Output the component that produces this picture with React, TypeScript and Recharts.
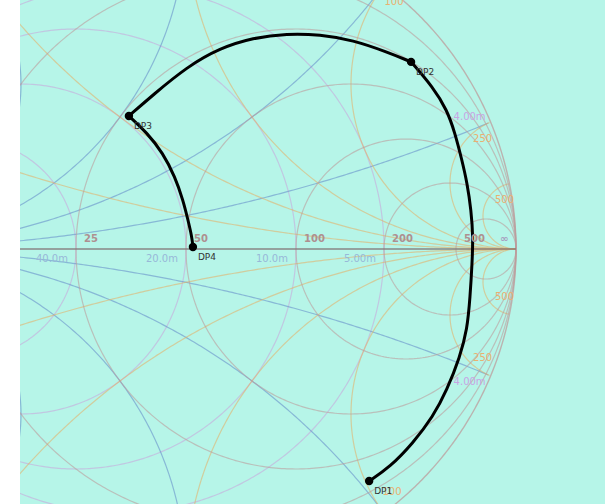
import React from 'react';
import { ComposedChart, XAxis, YAxis, Line, Scatter, CartesianGrid } from 'recharts';

// ---------- grid values (ohms / millisiemens, Z0 = 50 ohm) ----------
const Z0 = 50;
const resistanceOhms = [10, 25, 50, 100, 200, 500];
const reactanceOhms = [10, 25, 50, 100, 250, 500];
const conductanceMS = [100, 40, 20, 10, 5];
const susceptanceMS = [100, 40, 20, 10, 4];

// ---------- tick labels ----------
const resistanceLabelText = ['25', '50', '100', '200', '500', '\u221e'];
const resistanceLabelOhms = [25, 50, 100, 200, 500, Infinity];
const conductanceLabelText = ['40.0m', '20.0m', '10.0m', '5.00m'];
const conductanceLabelMS = [40, 20, 10, 5];
const reactanceLabelText = ['100', '250', '500'];
const reactanceLabelOhms = [100, 250, 500];
const susceptanceLabelText = ['4.00m'];
const susceptanceLabelMS = [4];

// ---------- matching path (reflection coefficient) ----------
const seg1Re = [0.555, 0.618, 0.688, 0.748, 0.791, 0.830, 0.852, 0.861, 0.867, 0.870, 0.864, 0.852, 0.836, 0.815, 0.791, 0.748, 0.682];
const seg1Im = [-0.703, -0.661, -0.588, -0.509, -0.427, -0.327, -0.245, -0.145, -0.042, 0.036, 0.118, 0.200, 0.270, 0.352, 0.421, 0.491, 0.567];
const seg2Re = [0.682, 0.609, 0.506, 0.406, 0.306, 0.203, 0.103, 0.003, -0.100, -0.173];
const seg2Im = [0.567, 0.597, 0.633, 0.650, 0.653, 0.640, 0.609, 0.552, 0.467, 0.403];
const seg3Re = [-0.173, -0.118, -0.070, -0.033, -0.009, 0.006, 0.018, 0.021];
const seg3Im = [0.403, 0.352, 0.291, 0.218, 0.148, 0.088, 0.036, 0.006];

const dpNames = ['DP1', 'DP2', 'DP3', 'DP4'];
const dpRe = [0.555, 0.682, -0.173, 0.021];
const dpIm = [-0.703, 0.567, 0.403, 0.006];

// ---------- styles ----------
const W = 605;
const H = 504;
const X_DOMAIN: [number, number] = [-0.50303, 1.2697];
const Y_DOMAIN: [number, number] = [-0.772727, 0.754545];
const BG = '#b6f5e8';
const RES_COLOR = '#bc9c9c';
const REACT_COLOR = '#e2b26c';
const COND_COLOR = '#c8a8dc';
const SUSC_COLOR = '#6f98cc';
const AXIS_COLOR = '#847a7a';
const FONT = 'DejaVu Sans, sans-serif';

// ---------- geometry helpers (grid built from the tick values) ----------
type P = { x: number; y: number };
const arc = (cx: number, cy: number, rad: number, t0: number, t1: number, n: number): P[] => {
  const pts: P[] = [];
  for (let i = 0; i <= n; i++) {
    const t = t0 + ((t1 - t0) * i) / n;
    const x = cx + rad * Math.cos(t);
    const y = cy + rad * Math.sin(t);
    if (x * x + y * y <= 1.000001) pts.push({ x, y });
  }
  return pts;
};
const nFor = (rad: number, span: number) => Math.min(3000, Math.max(160, Math.ceil(rad * span * 120)));

const resistanceCircle = (ohm: number) => {
  const r = ohm / Z0;
  const rad = 1 / (1 + r);
  return arc(r / (1 + r), 0, rad, 0, 2 * Math.PI, nFor(rad, 2 * Math.PI));
};
const reactanceArc = (ohm: number, sign: number) => {
  const x = (sign * ohm) / Z0;
  const rad = 1 / Math.abs(x);
  return arc(1, 1 / x, rad, Math.PI / 2, (3 * Math.PI) / 2, nFor(rad, Math.PI));
};
const conductanceCircle = (ms: number) => {
  const g = ms / (1000 / Z0);
  const rad = 1 / (1 + g);
  return arc(-g / (1 + g), 0, rad, 0, 2 * Math.PI, nFor(rad, 2 * Math.PI));
};
const susceptanceArc = (ms: number, sign: number) => {
  const b = (sign * ms) / (1000 / Z0);
  const rad = 1 / Math.abs(b);
  return arc(-1, -1 / b, rad, -Math.PI / 2, Math.PI / 2, nFor(rad, Math.PI));
};
const unitCircle = arc(0, 0, 1, 0, 2 * Math.PI, 900);
const realAxis: P[] = [{ x: -1, y: 0 }, { x: 1, y: 0 }];

const toPts = (re: number[], im: number[]): P[] => re.map((x, i) => ({ x, y: im[i] }));

const gammaR = (ohm: number) => (ohm === Infinity ? 1 : (ohm / Z0 - 1) / (ohm / Z0 + 1));
const gammaG = (ms: number) => {
  const g = ms / (1000 / Z0);
  return (1 - g) / (1 + g);
};

const resLabelData = resistanceLabelOhms.map((o, i) => ({ x: gammaR(o), y: 0, text: resistanceLabelText[i], inf: o === Infinity }));
const condLabelData = conductanceLabelMS.map((m, i) => ({ x: gammaG(m), y: 0, text: conductanceLabelText[i] }));
const reactLabelData = [1, -1].flatMap((s) =>
  reactanceLabelOhms.map((o, i) => {
    const x = o / Z0;
    return { x: (x * x - 1) / (x * x + 1), y: (s * 2 * x) / (x * x + 1), text: reactanceLabelText[i], idx: i, top: s > 0 };
  })
);
const suscLabelData = [1, -1].flatMap((s) =>
  susceptanceLabelMS.map((m, i) => {
    const b = m / (1000 / Z0);
    return { x: (1 - b * b) / (1 + b * b), y: (s * 2 * b) / (1 + b * b), text: susceptanceLabelText[i], top: s > 0 };
  })
);
const dpData = dpNames.map((n, i) => ({ x: dpRe[i], y: dpIm[i], text: n }));

// label offsets (pixels)
const REACT_OFF_TOP = [[10, 16], [-8, 16], [-5, 16]];
const REACT_OFF_BOT = [[8, -22], [-8, -18], [-5, -18]];

const ResLabel = (p: any) => (
  <text x={p.cx + (p.payload.inf ? -16 : 8)} y={p.cy - 10} dominantBaseline="central" textAnchor="start"
    fontFamily={FONT} fontSize={10} fontWeight="bold" fill={p.payload.inf ? '#a8a0c0' : '#ae9090'}>
    {p.payload.text}
  </text>
);
const CondLabel = (p: any) => (
  <text x={p.cx - 8} y={p.cy + 10} dominantBaseline="central" textAnchor="end"
    fontFamily={FONT} fontSize={10} fill="#98b8d8">
    {p.payload.text}
  </text>
);
const ReactLabel = (p: any) => {
  const off = p.payload.top ? REACT_OFF_TOP[p.payload.idx] : REACT_OFF_BOT[p.payload.idx];
  return (
    <text x={p.cx + off[0]} y={p.cy + off[1]} dominantBaseline="central" textAnchor="middle"
      fontFamily={FONT} fontSize={10} fill="#eab070">
      {p.payload.text}
    </text>
  );
};
const SuscLabel = (p: any) => (
  <text x={p.cx - 21} y={p.cy + (p.payload.top ? -6 : 6)} dominantBaseline="central" textAnchor="middle"
    fontFamily={FONT} fontSize={10} fill="#c8a4e4">
    {p.payload.text}
  </text>
);
const DpShape = (p: any) => (
  <g>
    <circle cx={p.cx} cy={p.cy} r={4.2} fill="#000" />
    <text x={p.cx + 5} y={p.cy + 10} dominantBaseline="central" textAnchor="start"
      fontFamily={FONT} fontSize={9} fill="#333">
      {p.payload.text}
    </text>
  </g>
);

const gridLine = (key: string, data: P[], color: string, width = 1.2, opacity = 0.6) => (
  <Line key={key} data={data} dataKey="y" type="linear" stroke={color} strokeWidth={width}
    strokeOpacity={opacity} dot={false} activeDot={false} isAnimationActive={false} legendType="none" />
);

const traceLine = (key: string, data: P[]) => (
  <Line key={key} data={data} dataKey="y" type="basis" stroke="#000" strokeWidth={3}
    dot={false} activeDot={false} isAnimationActive={false} legendType="none" />
);

export default function App() {
  return (
    <div style={{ position: 'absolute', left: 0, top: 0, width: W, height: H, background: '#fff' }}>
      <ComposedChart width={W} height={H} margin={{ top: 0, right: 0, bottom: 0, left: 20 }}>
        <CartesianGrid fill={BG} fillOpacity={1} horizontal={false} vertical={false} stroke="none" />
        <XAxis type="number" dataKey="x" domain={X_DOMAIN} allowDataOverflow hide />
        <YAxis type="number" dataKey="y" domain={Y_DOMAIN} allowDataOverflow hide />

        {conductanceMS.map((m) => gridLine('g' + m, conductanceCircle(m), COND_COLOR))}
        {susceptanceMS.flatMap((m) => [
          gridLine('bp' + m, susceptanceArc(m, 1), SUSC_COLOR, 1.2, 0.65),
          gridLine('bn' + m, susceptanceArc(m, -1), SUSC_COLOR, 1.2, 0.65),
        ])}
        {reactanceOhms.flatMap((o) => [
          gridLine('xp' + o, reactanceArc(o, 1), REACT_COLOR),
          gridLine('xn' + o, reactanceArc(o, -1), REACT_COLOR),
        ])}
        {resistanceOhms.map((o) => gridLine('r' + o, resistanceCircle(o), RES_COLOR))}
        {gridLine('unit', unitCircle, RES_COLOR, 1.4, 0.75)}
        {gridLine('axis', realAxis, AXIS_COLOR, 1.3, 0.9)}

        <Scatter data={resLabelData} shape={ResLabel} isAnimationActive={false} />
        <Scatter data={condLabelData} shape={CondLabel} isAnimationActive={false} />
        <Scatter data={reactLabelData} shape={ReactLabel} isAnimationActive={false} />
        <Scatter data={suscLabelData} shape={SuscLabel} isAnimationActive={false} />

        {traceLine('s1', toPts(seg1Re, seg1Im))}
        {traceLine('s2', toPts(seg2Re, seg2Im))}
        {traceLine('s3', toPts(seg3Re, seg3Im))}

        <Scatter data={dpData} shape={DpShape} isAnimationActive={false} />
      </ComposedChart>
    </div>
  );
}
